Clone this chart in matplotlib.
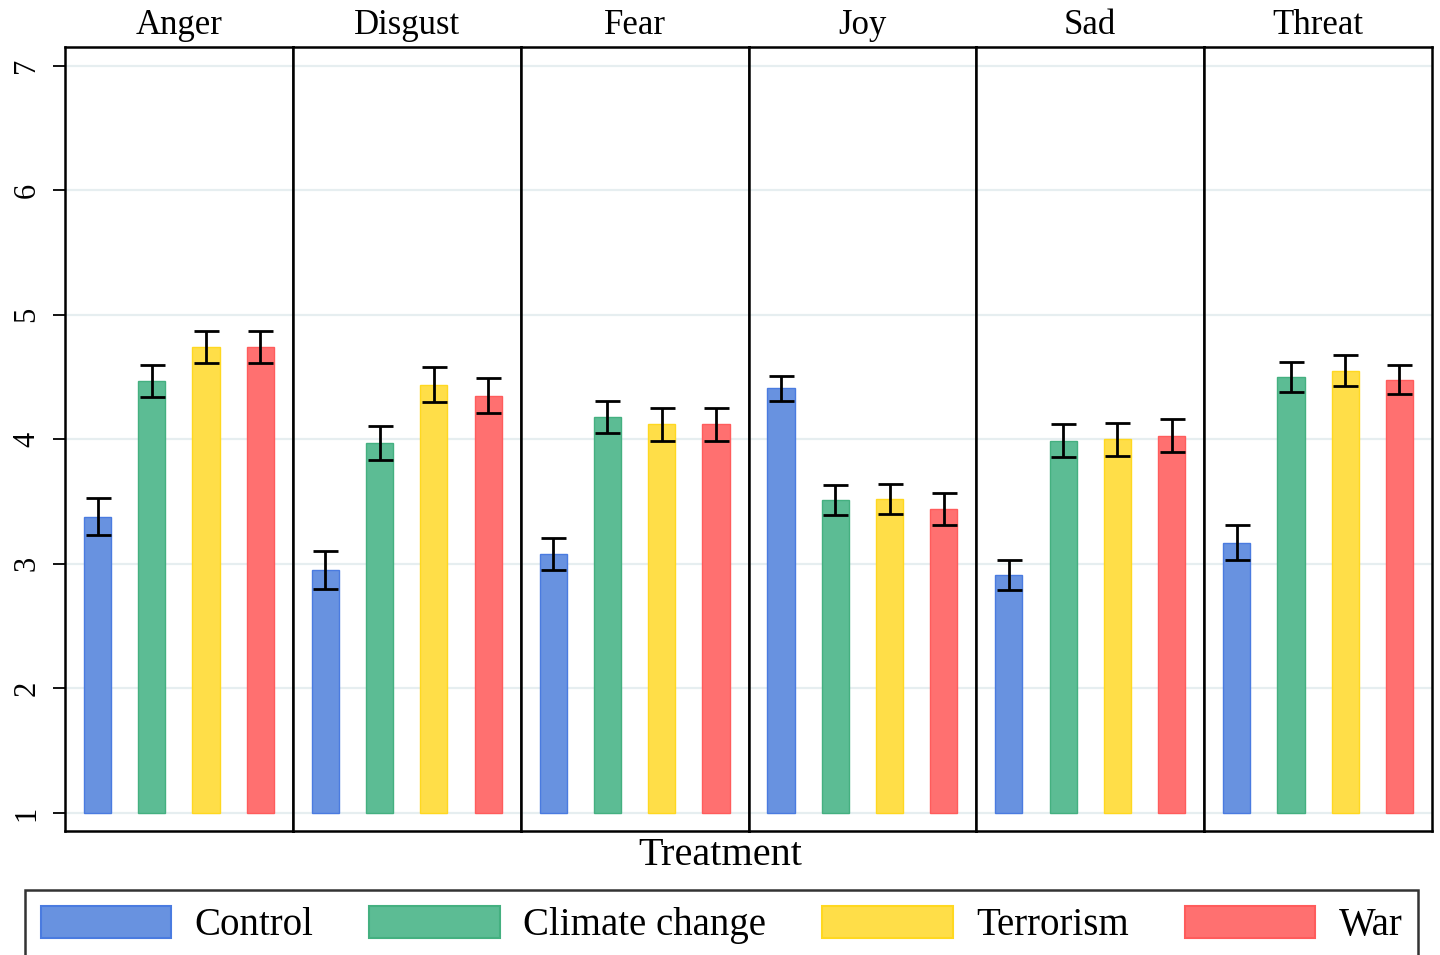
import matplotlib
matplotlib.use("Agg")
import matplotlib.pyplot as plt
from matplotlib.patches import Patch
import numpy as np

plt.rcParams['font.family'] = ['Liberation Serif', 'DejaVu Serif']

emotions = ["Anger", "Disgust", "Fear", "Joy", "Sad", "Threat"]
treatments = ["Control", "Climate change", "Terrorism", "War"]

means = {
    "Anger":   [3.38, 4.47, 4.74, 4.74],
    "Disgust": [2.95, 3.97, 4.44, 4.35],
    "Fear":    [3.08, 4.18, 4.12, 4.12],
    "Joy":     [4.41, 3.51, 3.52, 3.44],
    "Sad":     [2.91, 3.99, 4.00, 4.03],
    "Threat":  [3.17, 4.50, 4.55, 4.48],
}
errs = {
    "Anger":   [0.15, 0.13, 0.13, 0.13],
    "Disgust": [0.15, 0.14, 0.14, 0.14],
    "Fear":    [0.13, 0.13, 0.13, 0.13],
    "Joy":     [0.10, 0.12, 0.12, 0.13],
    "Sad":     [0.12, 0.13, 0.13, 0.13],
    "Threat":  [0.14, 0.12, 0.125, 0.12],
}

face_colors = ["#6892e0", "#5cbc94", "#ffde48", "#ff7070"]
edge_colors = ["#4a7be0", "#44b080", "#ffd820", "#ff5c5c"]
yticks = [1, 2, 3, 4, 5, 6, 7]
base = 1

fig = plt.figure(figsize=(14.4, 9.55), dpi=100)
fig.subplots_adjust(left=65/1440, right=1432/1440, top=1-47/955, bottom=1-831/955, wspace=0)
axes = fig.subplots(1, 6, sharey=True)

x = np.arange(len(treatments))
for i, (ax, emo) in enumerate(zip(axes, emotions)):
    ax.set_axisbelow(True)
    ax.grid(axis='y', color='#e6eef0', linewidth=1.6)
    heights = [m - base for m in means[emo]]
    ax.bar(x, heights, width=0.5, bottom=base, color=face_colors,
           edgecolor=edge_colors, linewidth=1.0, zorder=2)
    ax.errorbar(x, means[emo], yerr=errs[emo], fmt='none', ecolor='black',
                elinewidth=2, capsize=9, capthick=2, zorder=3)
    ax.set_ylim(0.855, 7.15)
    ax.set_xlim(-0.6, 3.6)
    ax.set_xticks([])
    ax.set_title(emo, fontsize=25, pad=9)
    for s in ax.spines.values():
        s.set_linewidth(1.8)
        s.set_color('black')

axes[0].set_yticks(yticks)
axes[0].set_yticklabels([str(t) for t in yticks])
axes[0].tick_params(axis='y', length=9, width=1.3, pad=8, labelsize=22,
                    labelrotation=90)
for lab in axes[0].get_yticklabels():
    lab.set_va('center')
for ax in axes[1:]:
    ax.tick_params(axis='y', length=0, labelleft=False)

fig.text(0.5, 1-865/955, "Treatment", ha='center', va='baseline', fontsize=29)

handles = [Patch(facecolor=fc, edgecolor=ec, linewidth=1.5) for fc, ec in zip(face_colors, edge_colors)]
leg = fig.legend(handles, treatments, loc='upper left', ncol=4, mode='expand',
                 bbox_to_anchor=(25/1440, -0.05, (1418-25)/1440, 1-890/955+0.05),
                 fontsize=28, handlelength=3.35, handleheight=0.9, handletextpad=0.6,
                 borderpad=0.4, columnspacing=1.0, frameon=True, fancybox=False,
                 edgecolor='black', borderaxespad=0)
leg.get_frame().set_linewidth(1.8)

fig.savefig("out.png", dpi=100)
